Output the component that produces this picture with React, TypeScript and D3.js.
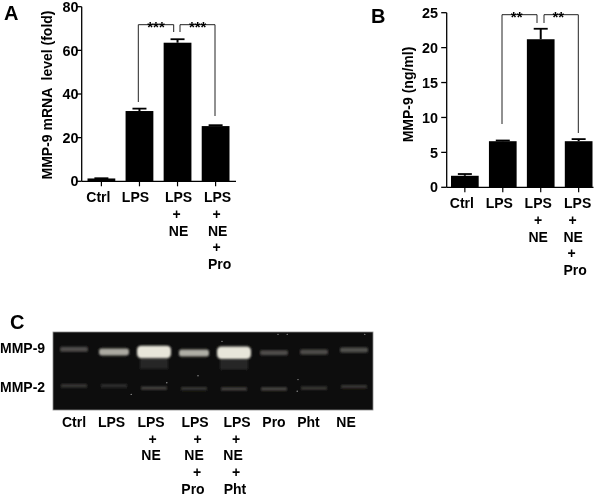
import { useEffect, useRef } from "react";
import * as d3 from "d3";

const BAR_GROUPS = ["Ctrl", "LPS", "LPS+NE", "LPS+NE+Pro"];
const MRNA_VALUES = [1.3, 32.2, 63.5, 25.3];
const MRNA_ERRORS = [0.1, 1.1, 1.6, 0.4];
const MRNA_TICKS = [0, 20, 40, 60, 80];
const ELISA_VALUES = [1.65, 6.6, 21.2, 6.6];
const ELISA_ERRORS = [0.25, 0.1, 1.5, 0.3];
const ELISA_TICKS = [0, 5, 10, 15, 20, 25];

const GEL_LANES = ["Ctrl", "LPS", "LPS+NE", "LPS+NE+Pro", "LPS+NE+Pht", "Pro", "Pht", "NE"];
// band brightness (0-1) and how far the band ran down the gel (% of gel height)
const MMP9_LEVEL = [0.3, 0.72, 1, 0.74, 1, 0.3, 0.3, 0.32];
const MMP9_RUN = [22, 25.5, 25.5, 27, 26.5, 26.5, 25.5, 23];
const MMP2_LEVEL = [0.2, 0.17, 0.24, 0.2, 0.24, 0.26, 0.2, 0.2];
const MMP2_RUN = [69, 69, 72, 72.5, 73, 73, 72, 70];
// stray bright specks: lane position, % of gel height
const SPECK_LANE = [1.93, 2.82, 5.6, 5.83, 7.77, 3.6, 6.1, 6.08, 4.2];
const SPECK_RUN = [80, 65, 3, 3, 3, 56, 61, 76, 12];

const FONT = "'Liberation Sans', Arial, sans-serif";
const LINE_GAP = 16.7;

// label offsets from the lane centre, one list per lane, one value per text line
const MRNA_LABEL_SHIFT = [[-3], [-4], [1, -1, 1], [2, 1, 2, 1, 4]];
const ELISA_LABEL_SHIFT = [[-3], [-3.5], [-2.5, -2.5, -2.5], [-1, -6, -5.5, -7, -3.5]];
const GEL_LABEL_SHIFT = [[0], [-2.5], [-3, -1.5, -3], [1, 3.5, 0, 3, -1], [3, 2, -1, 2, 1], [0], [-5.5], [-8]];

const splitLabel = (s: string) => s.split("+").flatMap((p, i) => (i ? ["+", p] : [p]));

type G = d3.Selection<SVGGElement, unknown, null, undefined>;

function drawBars(
  g: G,
  opts: {
    values: number[];
    errors: number[];
    ticks: number[];
    xRange: [number, number];
    yRange: [number, number];
    axisX: number;
    axisEnd: number;
    tickLabelX: number;
    ylabel: string;
    ylabelX: number;
    ylabelY: number;
    labelShift: number[][];
    stars: string;
    starX: [number, number];
    bracketY: number;
    bracketX: [number, number, number, number];
    bracketDrop: [number, number, number];
  },
) {
  const { values, errors, ticks, xRange, yRange, axisX, axisEnd } = opts;
  const x = d3.scaleBand().domain(BAR_GROUPS).range(xRange).paddingInner(0.27).paddingOuter(0);
  const y = d3.scaleLinear().domain([0, ticks[ticks.length - 1]]).range(yRange);

  BAR_GROUPS.forEach((name, i) => {
    const cx = x(name)! + x.bandwidth() / 2;
    const top = y(values[i] + errors[i]);
    g.append("line").attr("x1", cx).attr("x2", cx).attr("y1", y(values[i])).attr("y2", top)
      .attr("stroke", "#000").attr("stroke-width", 2);
    g.append("line").attr("x1", cx - 7).attr("x2", cx + 7).attr("y1", top).attr("y2", top)
      .attr("stroke", "#000").attr("stroke-width", 1.8);
    g.append("rect").attr("x", x(name)!).attr("width", x.bandwidth())
      .attr("y", y(values[i])).attr("height", y(0) - y(values[i])).attr("fill", "#000");

    splitLabel(name).forEach((line, j) => {
      g.append("text").attr("x", cx + opts.labelShift[i][j]).attr("y", y(0) + 21 + j * LINE_GAP)
        .attr("text-anchor", "middle").attr("font-size", 14).attr("font-weight", 700).text(line);
    });
    g.append("line").attr("x1", cx).attr("x2", cx).attr("y1", y(0)).attr("y2", y(0) + 5)
      .attr("stroke", "#000").attr("stroke-width", 1.2);
  });

  g.append("line").attr("x1", axisX).attr("x2", axisX).attr("y1", y(ticks[ticks.length - 1])).attr("y2", y(0))
    .attr("stroke", "#000").attr("stroke-width", 1.3);
  g.append("line").attr("x1", axisX).attr("x2", axisEnd).attr("y1", y(0)).attr("y2", y(0))
    .attr("stroke", "#000").attr("stroke-width", 1.3);

  ticks.forEach((t) => {
    g.append("line").attr("x1", axisX - 5.5).attr("x2", axisX).attr("y1", y(t)).attr("y2", y(t))
      .attr("stroke", "#000").attr("stroke-width", 1.3);
    g.append("text").attr("x", opts.tickLabelX).attr("y", y(t)).attr("dy", "0.36em").attr("text-anchor", "end")
      .attr("font-size", 14.4).attr("font-weight", 700).text(t);
  });

  g.append("text").attr("transform", `translate(${opts.ylabelX},${opts.ylabelY}) rotate(-90)`)
    .attr("text-anchor", "middle").attr("font-size", 14).attr("font-weight", 700)
    .style("white-space", "pre").text(opts.ylabel);

  // significance brackets between neighbouring treatments
  const [x1, x2, x3, x4] = opts.bracketX;
  const [lDrop, mDrop, rDrop] = opts.bracketDrop;
  const by = opts.bracketY;
  const bracket = d3.path();
  bracket.moveTo(x1, lDrop);
  bracket.lineTo(x1, by);
  bracket.lineTo(x2, by);
  bracket.lineTo(x2, mDrop);
  bracket.moveTo(x3, mDrop);
  bracket.lineTo(x3, by);
  bracket.lineTo(x4, by);
  bracket.lineTo(x4, rDrop);
  g.append("path").attr("d", bracket.toString()).attr("fill", "none").attr("stroke", "#222").attr("stroke-width", 1);

  opts.starX.forEach((sx) => {
    g.append("text").attr("x", sx).attr("y", by + 7).attr("text-anchor", "middle")
      .attr("font-size", 15).attr("font-weight", 700).text(opts.stars);
  });
}

function drawGel(g: G) {
  const left = 53;
  const right = 373;
  const top = 332;
  const bottom = 410;
  g.append("rect").attr("x", left).attr("y", top).attr("width", right - left).attr("height", bottom - top)
    .attr("fill", "#0d0d0d").attr("stroke", "#8a8a8a").attr("stroke-width", 0.8);

  const lane = d3.scaleBand().domain(GEL_LANES).range([54, 374]).padding(0);
  const run = d3.scaleLinear().domain([0, 100]).range([top, bottom]);
  const shade = d3.scaleLinear<string>().domain([0, 1]).range(["#0d0d0d", "#e8e6da"]);
  const laneX = d3.scaleLinear().domain([0, 8]).range([54, 374]);

  GEL_LANES.forEach((name, i) => {
    const cx = lane(name)! + lane.bandwidth() / 2;
    const level = MMP9_LEVEL[i];
    const w = level === 1 ? 34 : level > 0.7 ? 30 : 28;
    const h = level === 1 ? 12.5 : level > 0.7 ? 7 : 5;
    const y9 = run(MMP9_RUN[i]);
    // smear under the strong bands
    if (level === 1) {
      g.append("rect").attr("x", cx - w / 2 + 3).attr("y", y9 + 7).attr("width", w - 6).attr("height", 10)
        .attr("fill", "#262626").attr("filter", "url(#soft)");
    }
    g.append("rect").attr("x", cx - w / 2).attr("y", y9 - h / 2).attr("width", w).attr("height", h).attr("rx", h / 3)
      .attr("fill", shade(level)).attr("filter", "url(#soft)");
    g.append("rect").attr("x", cx - 13).attr("y", run(MMP2_RUN[i]) - 1.75).attr("width", 26).attr("height", 3.5)
      .attr("fill", shade(MMP2_LEVEL[i])).attr("filter", "url(#soft)");

    splitLabel(name).forEach((line, j) => {
      g.append("text").attr("x", cx + GEL_LABEL_SHIFT[i][j]).attr("y", 427 + j * LINE_GAP)
        .attr("text-anchor", "middle").attr("font-size", 14).attr("font-weight", 700).text(line);
    });
  });

  SPECK_LANE.forEach((l, i) => {
    g.append("circle").attr("cx", laneX(l)).attr("cy", run(SPECK_RUN[i])).attr("r", 0.7).attr("fill", "#999");
  });

  ["MMP-9", "MMP-2"].forEach((name, i) => {
    g.append("text").attr("x", 0).attr("y", i ? 392 : 353).attr("font-size", 14).attr("font-weight", 700).text(name);
  });
}

export default function App() {
  const svgRef = useRef<SVGSVGElement>(null);

  useEffect(() => {
    const svg = d3.select(svgRef.current!);
    svg.selectAll("*").remove();
    const defs = svg.append("defs");
    defs.append("filter").attr("id", "soft").attr("x", "-20%").attr("y", "-80%")
      .attr("width", "140%").attr("height", "260%")
      .append("feGaussianBlur").attr("stdDeviation", 1.1);
    // the source figure is a soft JPEG, take the edge off everything a little
    defs.append("filter").attr("id", "jpeg").attr("filterUnits", "userSpaceOnUse")
      .attr("x", 0).attr("y", 0).attr("width", 600).attr("height", 496)
      .append("feGaussianBlur").attr("stdDeviation", 0.35);

    const root = svg.append("g").attr("font-family", FONT).attr("fill", "#000").attr("filter", "url(#jpeg)");

    ["A", "B", "C"].forEach((p, i) => {
      root.append("text").attr("x", [4, 371, 10][i]).attr("y", [20, 23, 329][i])
        .attr("font-size", 20).attr("font-weight", 700).text(p);
    });

    drawBars(root.append("g"), {
      values: MRNA_VALUES,
      errors: MRNA_ERRORS,
      ticks: MRNA_TICKS,
      xRange: [87.5, 229.5],
      yRange: [181.3, 6.7],
      axisX: 81.7,
      axisEnd: 236,
      tickLabelX: 78.5,
      ylabel: "MMP-9 mRNA  level (fold)",
      ylabelX: 52,
      ylabelY: 95,
      labelShift: MRNA_LABEL_SHIFT,
      stars: "***",
      starX: [156, 197.7],
      bracketY: 24.7,
      bracketX: [138.3, 173.7, 180, 215],
      bracketDrop: [102, 32, 116],
    });

    drawBars(root.append("g"), {
      values: ELISA_VALUES,
      errors: ELISA_ERRORS,
      ticks: ELISA_TICKS,
      xRange: [451, 592.5],
      yRange: [187.3, 12.7],
      axisX: 446.7,
      axisEnd: 593.5,
      tickLabelX: 438,
      ylabel: "MMP-9 (ng/ml)",
      ylabelX: 413,
      ylabelY: 94.5,
      labelShift: ELISA_LABEL_SHIFT,
      stars: "**",
      starX: [516.7, 558.3],
      bracketY: 14.7,
      bracketX: [502, 537, 544, 578.3],
      bracketDrop: [124, 23, 133],
    });

    drawGel(root.append("g"));
  }, []);

  return <svg ref={svgRef} width={600} height={496} style={{ position: "absolute", left: 0, top: 0 }} />;
}
